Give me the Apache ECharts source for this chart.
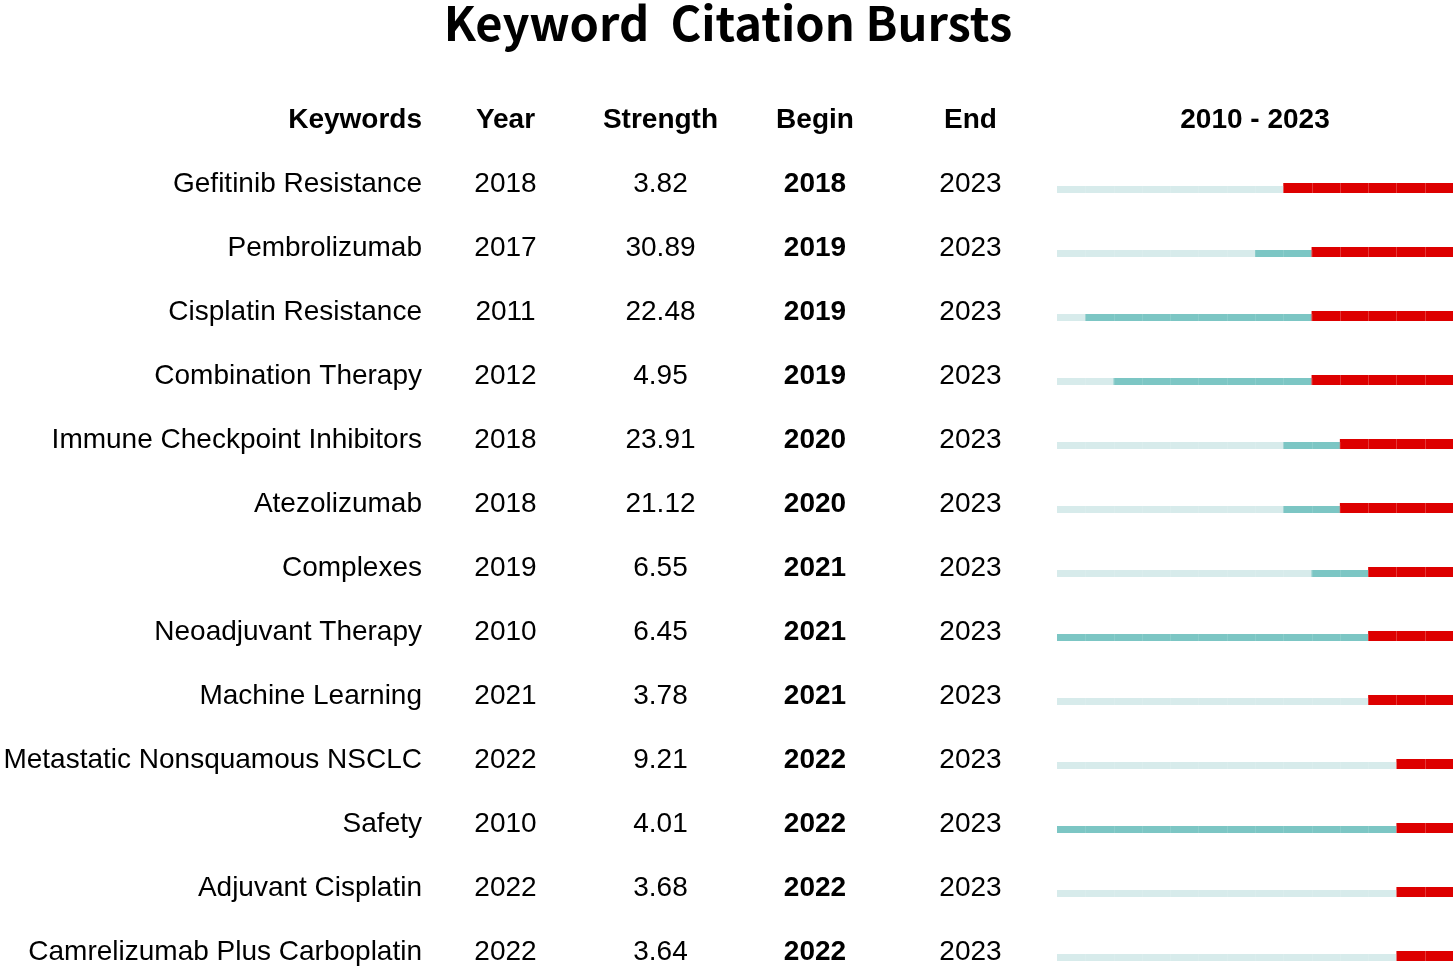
<!DOCTYPE html>
<html>
<head>
<meta charset="utf-8">
<script src="https://cdn.jsdelivr.net/npm/echarts@6/dist/echarts.min.js"></script>
<style>html,body{margin:0;padding:0;background:#fff;}#main{width:1456px;height:967px;}</style>
</head>
<body>
<div id="main"></div>
<script>
var keywords = ["Gefitinib Resistance","Pembrolizumab","Cisplatin Resistance","Combination Therapy","Immune Checkpoint Inhibitors","Atezolizumab","Complexes","Neoadjuvant Therapy","Machine Learning","Metastatic Nonsquamous NSCLC","Safety","Adjuvant Cisplatin","Camrelizumab Plus Carboplatin"];
var years = [2018,2017,2011,2012,2018,2018,2019,2010,2021,2022,2010,2022,2022];
var strengths = ["3.82","30.89","22.48","4.95","23.91","21.12","6.55","6.45","3.78","9.21","4.01","3.68","3.64"];
var begins = [2018,2019,2019,2019,2020,2020,2021,2021,2021,2022,2022,2022,2022];
var ends = [2023,2023,2023,2023,2023,2023,2023,2023,2023,2023,2023,2023,2023];
var rangeStart = 2010, rangeEnd = 2023;
var headers = ["Keywords","Year","Strength","Begin","End","2010 - 2023"];

var chart = echarts.init(document.getElementById('main'));
var FONT = '"Liberation Sans", Arial, sans-serif';
var GL = 1057, GW = 396;

function colAxis(labels, anchorX, align, bold) {
  return {
    type: 'category', data: labels, inverse: true, position: 'left', boundaryGap: false,
    offset: GL - anchorX,
    axisLine: {show: false}, axisTick: {show: false}, splitLine: {show: false},
    axisLabel: {show: true, interval: 0, margin: 0, align: align,
      fontFamily: FONT, fontSize: 28, color: '#000', fontWeight: bold ? 'bold' : 'normal'}
  };
}

var seriesData = keywords.map(function (k, i) { return [i, years[i], begins[i], ends[i]]; });

var headerX = [422, 505.5, 660.5, 815, 970.5, 1255];
var headerGraphics = headers.map(function (h, i) {
  return {type: 'text', x: headerX[i], y: 120,
    style: {text: h, font: 'bold 28px ' + FONT, fill: '#000',
      textAlign: i === 0 ? 'right' : 'center', textVerticalAlign: 'middle'}};
});

chart.setOption({
  backgroundColor: '#fff',
  animation: false,
  title: {text: 'Keyword  Citation Bursts', left: 'center', top: -5,
    textStyle: {fontFamily: '"Noto Sans CJK SC", sans-serif', fontWeight: 'bold', fontSize: 47, color: '#000'}},
  graphic: headerGraphics,
  grid: {left: GL, width: GW, top: 184, height: 768, containLabel: false},
  xAxis: {type: 'value', min: rangeStart, max: rangeEnd + 1, show: false},
  yAxis: [
    colAxis(keywords, 422, 'right', false),
    colAxis(years.map(String), 505.5, 'center', false),
    colAxis(strengths, 660.5, 'center', false),
    colAxis(begins.map(String), 815, 'center', true),
    colAxis(ends.map(String), 970.5, 'center', false)
  ],
  series: [{
    type: 'custom', yAxisIndex: 0, clip: false,
    encode: {x: [1, 2, 3], y: 0},
    data: seriesData,
    renderItem: function (params, api) {
      var row = api.value(0), yr = api.value(1), b = api.value(2), e = api.value(3);
      var cy = api.coord([rangeStart, row])[1] - 2;
      var children = [];
      var xs = api.coord([rangeStart, row])[0], xe = api.coord([rangeEnd + 1, row])[0];
      var xy = api.coord([yr, row])[0], xb = api.coord([b, row])[0], xend = api.coord([e + 1, row])[0];
      children.push({type: 'rect', shape: {x: xs, y: cy + 4, width: xb - xs, height: 7}, style: {fill: '#D7EBEB'}});
      if (xb > xy) children.push({type: 'rect', shape: {x: xy, y: cy + 4, width: xb - xy, height: 7}, style: {fill: '#7CC6C4'}});
      if (xe > xend) children.push({type: 'rect', shape: {x: xend, y: cy + 4, width: xe - xend, height: 7}, style: {fill: '#D7EBEB'}});
      children.push({type: 'rect', shape: {x: xb, y: cy + 1, width: xend - xb, height: 10}, style: {fill: '#DD0000'}});
      for (var t = rangeStart + 1; t <= rangeEnd; t++) {
        var xt = Math.round(api.coord([t, row])[0]) + 0.5;
        var inRed = t > b && t <= e;
        children.push({type: 'line', shape: {x1: xt, y1: inRed ? cy + 1 : cy + 4, x2: xt, y2: cy + 11},
          style: {stroke: inRed ? 'rgba(255,255,255,0.22)' : 'rgba(255,255,255,0.12)', lineWidth: 1}});
      }
      return {type: 'group', children: children};
    }
  }]
});
</script>
</body>
</html>
